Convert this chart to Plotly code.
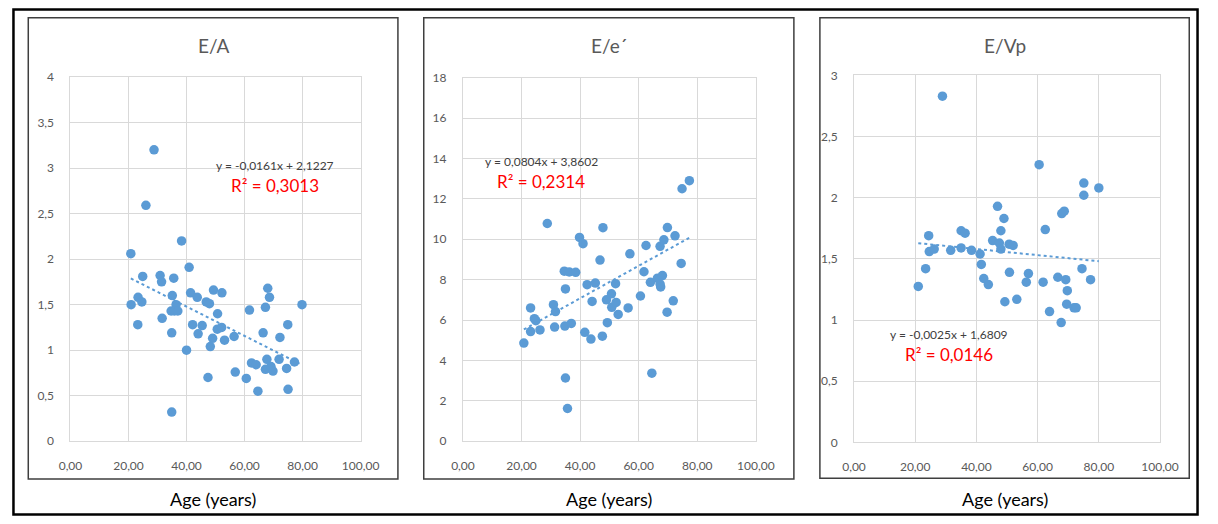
import plotly.graph_objects as go

# ---- data ----------------------------------------------------------------
titles = ["E/A", "E/e´", "E/Vp"]

age_ea = [28.8, 26.0, 38.3, 20.8, 40.9, 24.9, 30.9, 31.4, 35.6, 20.9, 23.3, 24.6,
          23.2, 31.6, 35.1, 34.7, 36.4, 35.8, 37.0, 34.9, 34.9, 40.0, 41.4, 43.7,
          42.1, 44.0, 45.4, 46.8, 47.9, 49.3, 52.2, 50.7, 49.0, 48.2, 50.6, 52.1,
          53.1, 47.4, 56.4, 56.8, 60.6, 61.7, 62.4, 64.0, 64.6, 67.2, 66.4, 68.0,
          68.6, 67.7, 67.2, 69.1, 69.8, 72.2, 71.9, 74.9, 74.5, 75.0, 77.2, 79.8]
ea = [3.20, 2.59, 2.20, 2.06, 1.91, 1.81, 1.82, 1.75, 1.79, 1.50, 1.58, 1.53,
      1.28, 1.35, 1.60, 1.43, 1.50, 1.43, 1.43, 1.19, 0.32, 1.00, 1.63, 1.58,
      1.28, 1.18, 1.27, 1.53, 1.51, 1.66, 1.63, 1.40, 1.13, 1.04, 1.23, 1.25,
      1.11, 0.70, 1.15, 0.76, 0.69, 1.44, 0.86, 0.84, 0.55, 1.47, 1.19, 1.68,
      1.58, 0.90, 0.79, 0.82, 0.77, 1.14, 0.90, 1.28, 0.80, 0.57, 0.87, 1.50]

age_ee = [77.3, 74.8, 28.8, 39.8, 41.0, 47.8, 57.0, 62.5, 67.3, 68.6, 69.8, 72.4,
          46.8, 74.5, 34.6, 36.3, 38.5, 35.0, 42.4, 45.2, 44.1, 52.1, 50.7, 49.0,
          50.8, 52.3, 53.0, 56.4, 60.6, 61.8, 64.0, 66.4, 68.1, 67.5, 67.3, 71.8,
          69.7, 64.5, 49.3, 47.6, 41.6, 43.7, 35.0, 35.7, 34.8, 37.0, 31.3, 30.9,
          31.6, 23.1, 24.4, 24.9, 23.1, 26.3, 20.8]
ee = [12.90, 12.50, 10.78, 10.09, 9.78, 10.57, 9.28, 9.69, 9.65, 9.97, 10.58, 10.17,
      8.97, 8.80, 8.42, 8.38, 8.36, 7.54, 7.75, 7.83, 6.92, 7.80, 7.30, 7.00,
      6.63, 6.87, 6.28, 6.60, 7.19, 8.39, 7.87, 8.07, 8.20, 7.64, 7.78, 6.95,
      6.39, 3.37, 5.87, 5.20, 5.39, 5.06, 3.13, 1.62, 5.70, 5.83, 5.65, 6.76,
      6.42, 6.60, 6.07, 5.97, 5.43, 5.51, 4.86]

age_evp = [28.9, 60.5, 75.1, 75.1, 80.0, 67.9, 68.7, 46.9, 49.0, 48.0, 62.5, 24.4,
           35.0, 36.3, 24.6, 26.2, 31.6, 35.0, 38.4, 41.2, 45.3, 47.5, 48.0, 50.7,
           52.0, 21.0, 23.4, 41.6, 42.4, 43.9, 50.8, 49.3, 53.2, 57.0, 56.3, 61.8,
           66.6, 69.2, 69.7, 69.5, 71.9, 72.6, 63.9, 67.7, 74.5, 77.3]
evp = [2.83, 2.27, 2.12, 2.02, 2.08, 1.87, 1.89, 1.93, 1.83, 1.73, 1.74, 1.69,
       1.73, 1.71, 1.56, 1.58, 1.57, 1.59, 1.57, 1.54, 1.65, 1.63, 1.58, 1.62,
       1.61, 1.275, 1.42, 1.455, 1.34, 1.29, 1.39, 1.15, 1.17, 1.38, 1.31, 1.31,
       1.35, 1.33, 1.24, 1.13, 1.10, 1.10, 1.07, 0.98, 1.42, 1.33]

# linear fits (slope, intercept, R²)
slopes = [-0.0161, 0.0804, -0.0025]
intercepts = [2.1227, 3.8602, 1.6809]
r_squared = [0.3013, 0.2314, 0.0146]

y_max = [4, 18, 3]
y_dtick = [0.5, 2, 0.5]
x_ticks = [0, 20, 40, 60, 80, 100]

# label positions for the fit equations (data units)
eq_pos = [(70.5, 3.03, 2.81), (26.7, 13.87, 12.88), (30.9, 0.883, 0.717)]

# ---- layout geometry (pixels) ---------------------------------------------
W, H = 1218, 524
plot_boxes = [(60, 357.7, 71, 446), (462.7, 763.3, 71.7, 446), (864, 1178, 69.3, 447.3)]
frames = [(16.7, 396, 10, 485), (422.5, 802.3, 10, 485), (829, 1208, 10, 484)]

BLUE = "#5B9BD5"
GRID = "#D9D9D9"
TICK = "#595959"
FONT = "Lato"


def fx(px):
    return px / W


def fy(py):
    return 1 - py / H


def fmt(v, nd=4):
    return f"{v:.{nd}f}".replace(".", ",")


fig = go.Figure()
shapes = []
annotations = []

series = [(age_ea, ea), (age_ee, ee), (age_evp, evp)]

for i, (xs, ys) in enumerate(series):
    n = "" if i == 0 else str(i + 1)
    xa, ya = "x" + n, "y" + n

    fig.add_trace(go.Scatter(
        x=xs, y=ys, mode="markers", xaxis=xa, yaxis=ya,
        marker=dict(color=BLUE, size=9.5, line=dict(width=0)),
        showlegend=False, hoverinfo="x+y"))

    x0, x1 = min(xs), max(xs)
    fig.add_trace(go.Scatter(
        x=[x0, x1], y=[slopes[i] * x0 + intercepts[i], slopes[i] * x1 + intercepts[i]],
        mode="lines", xaxis=xa, yaxis=ya,
        line=dict(color=BLUE, width=2, dash="dot"),
        showlegend=False, hoverinfo="skip"))

    left, right, top, bottom = plot_boxes[i]
    fig.layout["xaxis" + n] = dict(
        domain=[fx(left), fx(right)], anchor=ya, range=[0, 100],
        tickvals=x_ticks, ticktext=[fmt(v, 2) for v in x_ticks],
        showgrid=True, gridcolor=GRID, gridwidth=1,
        showline=True, linecolor=GRID, linewidth=1, mirror=True,
        zeroline=False, ticks="", ticklabelstandoff=13,
        tickfont=dict(family=FONT, size=12, color=TICK), fixedrange=True)
    fig.layout["yaxis" + n] = dict(
        domain=[fy(bottom), fy(top)], anchor=xa, range=[0, y_max[i]],
        dtick=y_dtick[i], tick0=0,
        showgrid=True, gridcolor=GRID, gridwidth=1,
        showline=True, linecolor=GRID, linewidth=1, mirror=True,
        zeroline=False, ticks="", ticklabelstandoff=13,
        tickfont=dict(family=FONT, size=12, color=TICK), fixedrange=True)

    # chart frame
    fl, fr, ft, fb = frames[i]
    shapes.append(dict(type="rect", xref="paper", yref="paper",
                       x0=fx(fl), x1=fx(fr), y0=fy(fb), y1=fy(ft),
                       line=dict(color="#3F3F3F", width=1.5)))

    cx = (fl + fr) / 2
    annotations.append(dict(text=titles[i], xref="paper", yref="paper",
                            x=fx(cx), y=fy(39), showarrow=False,
                            xanchor="center", yanchor="middle",
                            font=dict(family=FONT, size=19, color="#595959")))
    annotations.append(dict(text="Age (years)", xref="paper", yref="paper",
                            x=fx(cx), y=fy(505), showarrow=False,
                            xanchor="center", yanchor="middle",
                            font=dict(family=FONT, size=18, color="#000000")))

    ex, ey, ry = eq_pos[i]
    sign = "-" if slopes[i] < 0 else ""
    eq = f"y = {sign}{fmt(abs(slopes[i]))}x + {fmt(intercepts[i])}"
    annotations.append(dict(text=eq, xref=xa, yref=ya, x=ex, y=ey,
                            showarrow=False, xanchor="center", yanchor="middle",
                            font=dict(family=FONT, size=12, color="#404040")))
    annotations.append(dict(text=f"R² = {fmt(r_squared[i])}", xref=xa, yref=ya,
                            x=ex, y=ry, showarrow=False, xanchor="center",
                            yanchor="middle",
                            font=dict(family=FONT, size=17, color="#FF0000")))

# outer border
shapes.append(dict(type="rect", xref="paper", yref="paper",
                   x0=fx(1.5), x1=fx(1216.5), y0=fy(521.5), y1=fy(1.5),
                   line=dict(color="#000000", width=2.5)))

fig.update_layout(
    width=W, height=H, margin=dict(l=0, r=0, t=0, b=0),
    paper_bgcolor="white", plot_bgcolor="white",
    separators=",.", shapes=shapes, annotations=annotations,
    font=dict(family=FONT), showlegend=False)

fig.write_html("out.html", config={"displayModeBar": False})
